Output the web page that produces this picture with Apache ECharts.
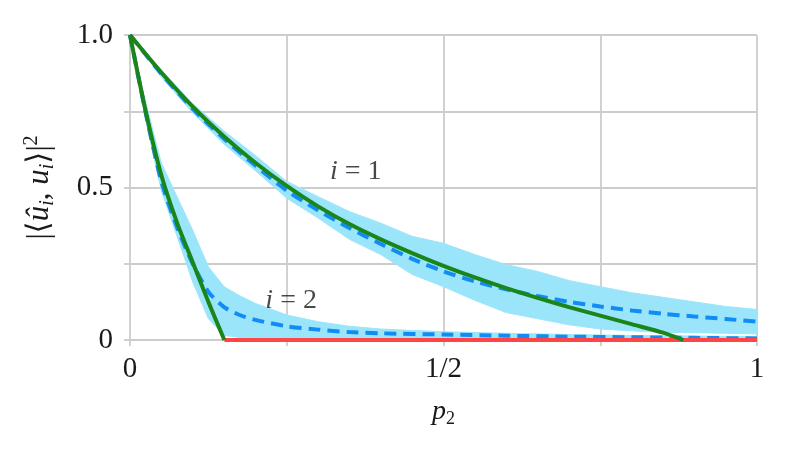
<!DOCTYPE html>
<html><head><meta charset="utf-8">
<script src="https://cdn.jsdelivr.net/npm/echarts@6/dist/echarts.min.js"></script>
<style>html,body{margin:0;padding:0;background:#fff}#c{width:789px;height:456px}</style>
</head><body><div id="c"></div>
<script>
// ---- data ----
const theoryX1 = [0,0.05,0.1,0.15,0.2,0.25,0.3,0.35,0.4,0.45,0.5,0.55,0.6,0.65,0.7,0.75,0.8,0.85,0.8825];
const theoryY1 = [1,0.877,0.765,0.667,0.581,0.505,0.438,0.38,0.33,0.285,0.243,0.205,0.17,0.138,0.108,0.08,0.052,0.024,0];
const theoryX2 = [0,0.025,0.05,0.075,0.1,0.125,0.1505];
const theoryY2 = [1,0.75,0.54,0.385,0.255,0.125,0];
const zeroX = [0.1505,1];
const zeroY = [0,0];

const meanX1 = [0,0.05,0.1,0.15,0.2,0.25,0.3,0.35,0.4,0.45,0.5,0.55,0.6,0.65,0.7,0.75,0.8,0.85,0.9,0.95,1];
const meanY1 = [1,0.873,0.758,0.66,0.572,0.49,0.425,0.367,0.315,0.266,0.225,0.192,0.166,0.144,0.125,0.11,0.097,0.086,0.077,0.069,0.06];
const bandX1 = [0,0.05,0.1,0.15,0.2,0.25,0.3,0.35,0.4,0.45,0.5,0.55,0.6,0.65,0.7,0.75,0.8,0.85,0.9,0.95,1];
const bandHi1 = [1,0.885,0.775,0.685,0.605,0.52,0.47,0.421,0.383,0.34,0.317,0.28,0.247,0.225,0.195,0.175,0.155,0.14,0.125,0.11,0.1];
const bandLo1 = [1,0.862,0.745,0.642,0.555,0.465,0.4,0.33,0.28,0.215,0.175,0.13,0.09,0.07,0.05,0.036,0.03,0.025,0.024,0.022,0.02];

const meanX2 = [0,0.025,0.05,0.075,0.1,0.125,0.15,0.175,0.2,0.25,0.3,0.35,0.4,0.5,0.6,0.7,0.8,0.9,1];
const meanY2 = [1,0.745,0.52,0.37,0.25,0.158,0.108,0.082,0.066,0.045,0.034,0.026,0.022,0.018,0.014,0.011,0.009,0.007,0.005];
const bandX2 = [0,0.025,0.05,0.075,0.1,0.125,0.15,0.175,0.2,0.25,0.3,0.35,0.4,0.5,0.6,0.7,0.8,0.9,1];
const bandHi2 = [1,0.78,0.58,0.47,0.36,0.24,0.175,0.145,0.12,0.082,0.06,0.045,0.036,0.027,0.022,0.018,0.015,0.013,0.011];
const bandLo2 = [1,0.72,0.49,0.34,0.19,0.07,0.015,0.008,0.006,0.005,0.004,0.004,0.003,0.003,0.002,0.002,0.001,0.001,0.001];

const xTicks = {0:'0', 0.5:'1/2', 1:'1'};
const yTicks = {0:'0', 0.5:'0.5', 1:'1.0'};
const annotations = [
  {text:'i = 1', x:0.36, y:0.552},
  {text:'i = 2', x:0.257, y:0.13}
];

// ---- helpers ----
const zip = (xs, ys) => xs.map((x,i)=>[x, ys[i]]);
const SERIF = '"Liberation Serif","DejaVu Serif",serif';
const BAND = '#9be5fb';
const BLUE = '#118cf5';
const GREEN = '#1a8519';
const RED = '#ff4545';
const TXT = '#1a1a1a';

function bandSeries(xs, hi, lo){
  return {
    type:'custom', coordinateSystem:'cartesian2d', silent:true, z:1,
    data:[[xs[0], hi[0]]],
    renderItem:function(params, api){
      const pts = [];
      for(let i=0;i<xs.length;i++) pts.push(api.coord([xs[i], hi[i]]));
      for(let i=xs.length-1;i>=0;i--) pts.push(api.coord([xs[i], lo[i]]));
      return {type:'polygon', shape:{points:pts}, style:{fill:BAND, stroke:BAND, lineWidth:1}};
    }
  };
}
function lineSeries(xs, ys, color, dashed, z){
  return {
    type:'line', data:zip(xs,ys), symbol:'none', silent:true, z:z,
    smooth:0.25,
    lineStyle:{color:color, width:4, type: dashed ? [12,7] : 'solid', cap:'butt'}
  };
}

const chart = echarts.init(document.getElementById('c'), null, {renderer:'canvas'});
chart.setOption({
  animation:false,
  grid:{left:130, right:32, top:35, bottom:116, containLabel:false},
  xAxis:{
    type:'value', min:0, max:1, interval:0.25,
    axisLine:{show:false},
    axisTick:{show:true, length:6, lineStyle:{color:'#cccccc', width:1.8}},
    splitLine:{show:true, lineStyle:{color:'#cccccc', width:1.8}},
    axisLabel:{margin:15, fontFamily:SERIF, fontSize:29, color:TXT,
      formatter:v => (xTicks[v] !== undefined ? xTicks[v] : '')},
    name:'{t|p}{s|2}', nameLocation:'middle', nameGap:56,
    nameTextStyle:{rich:{
      t:{fontFamily:SERIF, fontStyle:'italic', fontSize:28, color:TXT, lineHeight:32},
      s:{fontFamily:SERIF, fontSize:18, color:TXT, lineHeight:20, verticalAlign:'bottom'}
    }}
  },
  yAxis:{
    type:'value', min:0, max:1, interval:0.25,
    axisLine:{show:false},
    axisTick:{show:true, length:6, lineStyle:{color:'#cccccc', width:1.8}},
    splitLine:{show:true, lineStyle:{color:'#cccccc', width:1.8}},
    axisLabel:{margin:17, fontFamily:SERIF, fontSize:29, color:TXT,
      formatter:v => (yTicks[v] !== undefined ? yTicks[v] : '')},
    name:'{t||⟨}{it|û}{s|i}{t|, }{it|u}{s|i}{t|⟩|}{p|2}', nameLocation:'middle', nameGap:72, nameRotate:90,
    nameTextStyle:{rich:{
      t:{fontFamily:SERIF, fontSize:31, color:TXT, lineHeight:36},
      it:{fontFamily:SERIF, fontStyle:'italic', fontSize:31, color:TXT, lineHeight:36},
      s:{fontFamily:SERIF, fontStyle:'italic', fontSize:20, color:TXT, lineHeight:22, verticalAlign:'bottom'},
      p:{fontFamily:SERIF, fontSize:20, color:TXT, lineHeight:22, verticalAlign:'top'}
    }}
  },
  series:[
    bandSeries(bandX1, bandHi1, bandLo1),
    bandSeries(bandX2, bandHi2, bandLo2),
    lineSeries(meanX1, meanY1, BLUE, true, 3),
    lineSeries(meanX2, meanY2, BLUE, true, 3),
    lineSeries(zeroX, zeroY, RED, false, 4),
    lineSeries(theoryX1, theoryY1, GREEN, false, 5),
    lineSeries(theoryX2, theoryY2, GREEN, false, 5),
    {
      type:'scatter', symbolSize:0, silent:true, z:6,
      data:annotations.map(a=>({value:[a.x,a.y], name:a.text})),
      label:{show:true, position:'inside', formatter:p => '{it|i}{t| = ' + p.name.split('= ')[1] + '}',
        rich:{
          it:{fontFamily:SERIF, fontStyle:'italic', fontSize:28, color:TXT},
          t:{fontFamily:SERIF, fontSize:28, color:TXT}
        }}
    }
  ]
});
</script></body></html>
